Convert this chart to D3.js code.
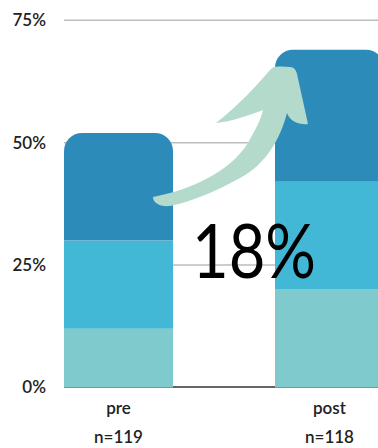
<!DOCTYPE html>
<html>
<head>
<meta charset="utf-8">
<script src="https://cdn.jsdelivr.net/npm/d3@7"></script>
<style>
  body { margin: 0; background: #fff; }
  svg { display: block; font-family: Lato, "Open Sans", sans-serif; }
</style>
</head>
<body>
<div id="chart"></div>
<script>
// data
const groups = ["pre", "post"];
const sampleSizes = ["n=119", "n=118"];
const low = [12, 20];
const mid = [18, 22];
const high = [22, 27];
const yTicks = [0, 25, 50, 75];
const changeLabel = "18%";
const colors = ["#7ecacd", "#42b7d6", "#2d8bba"];

const width = 378, height = 448;
const svg = d3.select("#chart").append("svg")
  .attr("width", width)
  .attr("height", height);

const x = d3.scaleBand()
  .domain(groups)
  .range([64, 384])
  .paddingInner(0.4834)
  .paddingOuter(0);

const y = d3.scaleLinear()
  .domain([0, 75])
  .range([387.5, 20.3]);

// gridlines
svg.append("g")
  .selectAll("line")
  .data(yTicks.filter(d => d > 0))
  .join("line")
  .attr("x1", 64)
  .attr("x2", width)
  .attr("y1", d => y(d))
  .attr("y2", d => y(d))
  .attr("stroke", "#bdbdbd")
  .attr("stroke-width", 1.5);

// baseline
svg.append("line")
  .attr("x1", 64).attr("x2", width)
  .attr("y1", y(0) - 0.5).attr("y2", y(0) - 0.5)
  .attr("stroke", "#666")
  .attr("stroke-width", 2);

// stacked rows
const rows = groups.map((g, i) => ({ group: g, values: [low[i], mid[i], high[i]] }));
const r = 18;

rows.forEach(row => {
  let base = 0;
  const x0 = x(row.group), bw = x.bandwidth();
  row.values.forEach((v, k) => {
    const top = base + v;
    const yb = y(base), yt = y(top);
    if (k < row.values.length - 1) {
      svg.append("rect")
        .attr("x", x0)
        .attr("y", yt)
        .attr("width", bw)
        .attr("height", yb - yt)
        .attr("fill", colors[k]);
    } else {
      // top segment gets rounded top corners
      const p = d3.path();
      p.moveTo(x0, yb);
      p.lineTo(x0, yt + r);
      p.arcTo(x0, yt, x0 + r, yt, r);
      p.lineTo(x0 + bw - r, yt);
      p.arcTo(x0 + bw, yt, x0 + bw, yt + r, r);
      p.lineTo(x0 + bw, yb);
      p.closePath();
      svg.append("path").attr("d", p.toString()).attr("fill", colors[k]);
    }
    base = top;
  });
});

// curved arrow annotation
svg.append("path")
  .attr("d", "M153,197 C190,190 230,172 248,143 C255,130 261,120 263,110 " +
             "C250,115 230,122 216,123 C235,108 255,88 270,70 " +
             "C273,66 278,66 290,67 C294,67 296,70 297,74 L308,124 " +
             "C300,125 290,122 287,113 C280,140 265,165 240,178 " +
             "C215,192 190,202 170,206 C160,207 153,203 153,197 Z")
  .attr("fill", "#b3dacb");

svg.append("text")
  .attr("x", 192)
  .attr("y", 278)
  .attr("font-size", 76)
  .attr("textLength", 124)
  .attr("lengthAdjust", "spacingAndGlyphs")
  .attr("fill", "#000")
  .text(changeLabel);

// y axis labels
const yAxis = svg.append("g")
  .attr("transform", "translate(64,0)")
  .call(d3.axisLeft(y).tickValues(yTicks).tickSize(0).tickPadding(18).tickFormat(d => d + "%"));
yAxis.select(".domain").remove();
yAxis.selectAll("text")
  .attr("font-size", 17)
  .attr("font-weight", 600)
  .attr("font-family", "Lato, sans-serif")
  .attr("fill", "#222");

// category labels
groups.forEach((g, i) => {
  const cx = x(g) + x.bandwidth() / 2;
  svg.append("text")
    .attr("x", cx).attr("y", 414)
    .attr("text-anchor", "middle")
    .attr("font-size", 17).attr("font-weight", 600)
    .attr("fill", "#222")
    .text(g);
  svg.append("text")
    .attr("x", cx).attr("y", 443)
    .attr("text-anchor", "middle")
    .attr("font-size", 17).attr("font-weight", 600)
    .attr("fill", "#222")
    .text(sampleSizes[i]);
});
</script>
</body>
</html>
